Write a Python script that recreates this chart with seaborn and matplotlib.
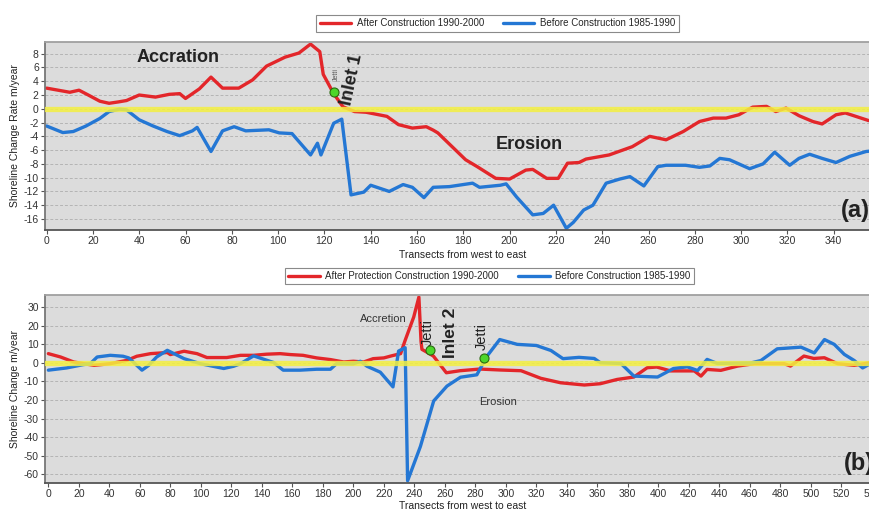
"""
Shoreline change rate before / after jetty construction, two panels.
"""

import matplotlib
matplotlib.use('Agg')
import matplotlib.pyplot as plt
import seaborn as sns


COLORS = {
    'after': '#e3262a',
    'before': '#2477d4',
    'zero': '#f4f040',
    'jetti': '#4cd62a',
    'bg': '#dcdcdc',
    'text': '#222222',
}

# ---- panel (a): inlet 1 ----
a_after_x = [0, 5, 10, 14, 18, 23, 27, 31, 34.5, 40, 47, 53, 57.5, 60, 66, 71, 76, 83, 89, 95,
             103, 109, 114, 118, 119.5, 124, 128, 133, 138, 147, 152, 158, 164, 167, 169, 181,
             186, 194, 200, 207, 210, 216, 221, 225, 230, 233, 243, 253, 260.5, 267.6, 275, 282,
             288, 293.5, 299, 305, 311, 315, 319.4, 325, 331, 335, 341, 345, 355, 360]
a_after_y = [3.0, 2.7, 2.4, 2.7, 2.0, 1.1, 0.8, 1.0, 1.2, 2.0, 1.7, 2.1, 2.2, 1.5, 2.9, 4.6, 3.0,
             3.0, 4.2, 6.2, 7.5, 8.1, 9.4, 8.3, 5.0, 2.2, 0.3, -0.4, -0.5, -1.1, -2.3, -2.8, -2.6,
             -3.1, -3.5, -7.4, -8.4, -10.1, -10.2, -8.9, -8.8, -10.1, -10.1, -7.9, -7.8, -7.3,
             -6.7, -5.5, -4.0, -4.5, -3.3, -1.85, -1.35, -1.35, -0.87, 0.24, 0.35, -0.4, 0.1,
             -1.0, -1.85, -2.2, -0.87, -0.6, -1.7, -1.8]

a_before_x = [0, 7, 11.5, 17, 23, 27, 31.5, 34.5, 40, 46, 52, 57.5, 63, 65, 71, 76, 81, 86, 96,
              100.5, 106, 114, 117, 118.5, 124, 127.5, 131.5, 137, 140, 148, 154, 158, 163, 167,
              174, 184, 187, 196, 198.5, 203, 210, 214.5, 219, 224.5, 227.5, 232, 236, 241.7,
              247.6, 252, 258, 264, 267.6, 276, 282, 286.5, 290.8, 295, 303.7, 309.5, 314.5,
              321, 325, 329.6, 335, 341, 347, 354, 360]
a_before_y = [-2.5, -3.45, -3.3, -2.5, -1.4, -0.4, -0.05, -0.15, -1.6, -2.5, -3.3, -3.9, -3.2,
              -2.7, -6.2, -3.2, -2.6, -3.2, -3.05, -3.5, -3.6, -6.7, -5.0, -6.7, -2.1, -1.5,
              -12.5, -12.1, -11.1, -12.0, -11.0, -11.4, -12.9, -11.4, -11.3, -10.8, -11.4,
              -11.1, -10.9, -12.8, -15.4, -15.2, -14.0, -17.35, -16.5, -14.7, -14.0, -10.8,
              -10.2, -9.85, -11.2, -8.4, -8.2, -8.2, -8.5, -8.3, -7.2, -7.4, -8.7, -8.0, -6.3,
              -8.2, -7.2, -6.6, -7.2, -7.8, -6.9, -6.2, -6.0]

a_jetti_x = [124]
a_jetti_y = [2.4]

# ---- panel (b): inlet 2 ----
b_after_x = [0, 8, 16.6, 30, 40.6, 51.6, 58, 67, 78, 80, 89, 97.5, 104, 117, 126, 134.6, 143,
             152, 158.7, 167, 176, 185, 193.7, 200, 206.8, 213, 220, 225, 231, 234, 239.6, 243,
             244.4, 245, 248, 252.5, 261, 270, 283, 296, 310, 323, 336, 351.5, 362, 373, 384,
             392.7, 399, 408, 423.6, 428, 432, 441, 452, 463, 482.6, 486.7, 495.5, 502, 508.9,
             517.6, 528.5, 538, 545]
b_after_y = [5.0, 3.2, 0.5, -1.3, -0.4, 1.4, 3.6, 5.0, 5.6, 4.5, 6.3, 5.0, 2.9, 2.9, 4.1, 4.1,
             4.7, 5.0, 4.5, 4.1, 2.7, 1.8, 0.5, 0.9, 0.5, 2.3, 2.7, 3.8, 5.0, 12.2, 24.7, 35.5,
             11.7, 7.3, 5.9, 3.7, -5.3, -4.2, -3.3, -3.8, -4.2, -8.3, -10.7, -11.9, -11.2, -8.9,
             -7.6, -2.6, -2.2, -4.3, -4.3, -7.1, -3.5, -4.0, -1.7, -0.4, -0.4, -1.7, 3.7, 2.4,
             2.8, -0.4, -1.3, 0.0, 0.3]

b_before_x = [0, 12, 23, 27.5, 32, 40.6, 49, 52.7, 61.4, 65.8, 71, 78, 89, 99.7, 115, 121.5,
              126, 134.6, 143.4, 147.8, 154, 165, 176, 185, 189, 200, 204.6, 209, 217.7, 226,
              229.7, 234, 235.6, 244, 252.7, 261.4, 270.3, 281, 287.7, 296, 307.5, 320, 329.6,
              337.5, 348, 358, 362, 375.5, 384, 399.5, 410, 419, 425.8, 432, 438.7, 460.8,
              467.3, 478, 493.6, 502.3, 509, 515.4, 522, 528.5, 534, 538, 545]
b_before_y = [-3.9, -2.7, -0.9, -0.4, 3.2, 4.1, 3.6, 2.7, -3.9, -1.3, 3.2, 6.8, 2.3, -0.4, -3.0,
              -1.8, -0.4, 3.8, 1.4, 0.2, -3.9, -3.9, -3.4, -3.4, -0.4, -0.5, 0.9, -1.8, -5.0,
              -12.9, 6.4, 8.2, -63.5, -45.0, -20.5, -12.5, -7.7, -6.4, 3.7, 12.6, 10.0, 9.4,
              6.7, 2.3, 3.0, 2.4, 0.1, -0.3, -7.1, -7.6, -3.0, -2.1, -4.1, 1.9, -0.3, 0.0, 1.3,
              7.6, 8.5, 5.4, 12.6, 10.0, 4.6, 1.3, -2.7, -0.9, 0.5]

b_jetti_x = [250, 286]
b_jetti_y = [6.9, 2.8]

a_labels = ['After Construction 1990-2000', 'Before Construction 1985-1990']
b_labels = ['After Protection Construction 1990-2000', 'Before Construction 1985-1990']


def setup_style():
    sns.set_style("ticks", {'axes.facecolor': COLORS['bg']})
    plt.rcParams['font.family'] = ['Liberation Sans', 'DejaVu Sans']
    plt.rcParams['axes.unicode_minus'] = False
    plt.rcParams['xtick.labelsize'] = 7.5
    plt.rcParams['ytick.labelsize'] = 7.5
    plt.rcParams['xtick.color'] = '#555555'
    plt.rcParams['ytick.color'] = '#555555'
    plt.rcParams['xtick.labelcolor'] = '#333333'
    plt.rcParams['ytick.labelcolor'] = '#333333'


def draw_panel(ax, after_x, after_y, before_x, before_y, jx, jy, labels, xlim, ylim,
               xticks, yticks, ylabel):
    sns.lineplot(x=after_x, y=after_y, ax=ax, color=COLORS['after'], linewidth=2.4,
                 sort=False, label=labels[0])
    sns.lineplot(x=before_x, y=before_y, ax=ax, color=COLORS['before'], linewidth=2.4,
                 sort=False, label=labels[1])
    ax.axhline(0, color=COLORS['zero'], linewidth=3.8, alpha=0.85, zorder=3)
    ax.plot(jx, jy, 'o', color=COLORS['jetti'], markeredgecolor='#2a6a10',
            markersize=6.5, markeredgewidth=0.8, zorder=5)

    ax.set_xlim(*xlim)
    ax.set_ylim(*ylim)
    ax.set_xticks(xticks)
    ax.set_yticks(yticks)
    ax.yaxis.grid(True, color='#b4b4b4', linestyle=(0, (3, 2)), linewidth=0.7)
    ax.set_axisbelow(True)
    ax.tick_params(length=3, width=0.8, pad=1.5)

    for side in ['left', 'bottom', 'top']:
        ax.spines[side].set_visible(True)
        ax.spines[side].set_linewidth(1.3)
    ax.spines['left'].set_color('#777777')
    ax.spines['bottom'].set_color('#555555')
    ax.spines['top'].set_color('#a0a0a0')
    ax.spines['right'].set_visible(False)

    ax.set_xlabel('Transects from west to east', fontsize=7.5, color=COLORS['text'])
    ax.set_ylabel(ylabel, fontsize=7.5, color=COLORS['text'])
    ax.yaxis.set_label_coords(-0.03, 0.5)


setup_style()
fig = plt.figure(figsize=(8.69, 5.11), dpi=100)
ax_a = fig.add_axes([45 / 869, 1 - 230 / 511, 835 / 869, 188 / 511])
ax_b = fig.add_axes([45 / 869, 1 - 483 / 511, 835 / 869, 188 / 511])

draw_panel(ax_a, a_after_x, a_after_y, a_before_x, a_before_y, a_jetti_x, a_jetti_y,
           a_labels, (-0.7, 359.5), (-17.6, 9.7), range(0, 361, 20), range(-16, 9, 2),
           'Shoreline Change Rate m/year')
draw_panel(ax_b, b_after_x, b_after_y, b_before_x, b_before_y, b_jetti_x, b_jetti_y,
           b_labels, (-2.2, 545.4), (-64.7, 36.6), range(0, 541, 20), range(-60, 31, 10),
           'Shoreline Change m/year')
ax_a.xaxis.set_label_coords(0.5, -0.105)
ax_b.xaxis.set_label_coords(0.5, -0.095)

for ax, anchor in [(ax_a, (497.5 / 869, 1 - 23.5 / 511)), (ax_b, (489.5 / 869, 1 - 276 / 511))]:
    leg = ax.legend(loc='center', bbox_to_anchor=anchor, bbox_transform=fig.transFigure,
                    ncol=2, fontsize=7, frameon=True, fancybox=False, handlelength=3.2,
                    columnspacing=2.0, borderpad=0.35, handletextpad=0.6,
                    facecolor='white', framealpha=1.0)
    leg.get_frame().set_edgecolor('#8a8a8a')
    leg.get_frame().set_linewidth(0.8)
    for h in leg.get_lines():
        h.set_linewidth(2.4)

# annotations panel (a)
ax_a.text(56.6, 7.4, 'Accration', fontsize=13, fontweight='bold', ha='center', va='center',
          color=COLORS['text'])
ax_a.text(208.5, -5.2, 'Erosion', fontsize=13, fontweight='bold', ha='center', va='center',
          color=COLORS['text'])
ax_a.text(125.3, 5.0, 'Jetti', fontsize=5, rotation=90, ha='center', va='center',
          color='#555555')
ax_a.text(132, 4.2, 'Inlet 1', fontsize=13, fontweight='bold', rotation=78,
          ha='center', va='center', color=COLORS['text'])
ax_a.text(343, -14.7, '(a)', fontsize=17, fontweight='bold', ha='left', va='center',
          color=COLORS['text'])

# annotations panel (b)
ax_b.text(219.8, 23.9, 'Accretion', fontsize=8, ha='center', va='center', color='#333333')
ax_b.text(295.2, -21.2, 'Erosion', fontsize=8, ha='center', va='center', color='#333333')
ax_b.text(249, 16.4, 'Jetti', fontsize=10.5, rotation=90, ha='center', va='center',
          color=COLORS['text'])
ax_b.text(264, 16.4, 'Inlet 2', fontsize=12.5, fontweight='bold', rotation=90,
          ha='center', va='center', color=COLORS['text'])
ax_b.text(284.5, 14.3, 'Jetti', fontsize=10.5, rotation=90, ha='center', va='center',
          color=COLORS['text'])
ax_b.text(521.8, -54.3, '(b)', fontsize=17, fontweight='bold', ha='left', va='center',
          color=COLORS['text'])

fig.savefig('out.png', dpi=100)
